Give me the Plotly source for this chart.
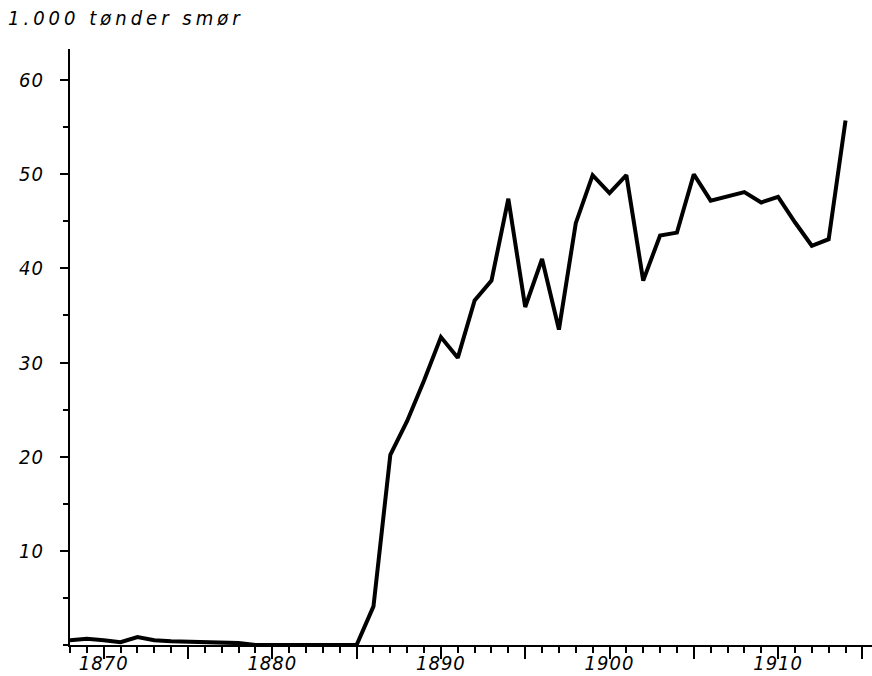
import plotly.graph_objects as go

years = list(range(1868, 1915))
values = [0.5, 0.65, 0.5, 0.3, 0.85, 0.5, 0.4, 0.35, 0.3, 0.25, 0.2, 0.0,
          0.0, 0.0, 0.0, 0.0, 0.0, 0.0,
          4.1, 20.2, 23.8, 28.1, 32.7, 30.5, 36.6, 38.7, 47.4, 35.9, 41.0, 33.5,
          44.8, 49.9, 48.0, 49.9, 38.7, 43.5, 43.8, 50.0, 47.2, 47.7, 48.1, 47.0,
          47.6, 44.9, 42.4, 43.1, 55.7]

x_major = list(range(1870, 1916, 5))
x_text = [str(v) if v % 10 == 0 else "" for v in x_major]
y_major = [10, 20, 30, 40, 50, 60]
y_text = [str(v) for v in y_major]
title_text = "1.000 tønder smør"

FONT = "DejaVu Sans Condensed, DejaVu Sans, sans-serif"


def spaced(t, px):
    return '<span style="letter-spacing:%dpx">%s</span>' % (px, t) if t else ""


fig = go.Figure()
fig.add_trace(go.Scatter(x=years, y=values, mode="lines",
                         line=dict(color="black", width=4, shape="linear"),
                         hoverinfo="skip", showlegend=False, cliponaxis=False))

fig.update_layout(
    template="none",
    width=872, height=676,
    margin=dict(l=70, r=0, t=49, b=31, autoexpand=False),
    paper_bgcolor="white", plot_bgcolor="white",
    font=dict(family=FONT, color="black", size=20, style="italic"),
    title=dict(text=spaced(title_text, 4), xref="container", yref="container",
               x=8/872, xanchor="left", y=1-18/676, yanchor="middle",
               font=dict(family=FONT, size=20, style="italic", color="black")),
    xaxis=dict(range=[1868, 1915.57], showgrid=False, zeroline=False, automargin=False,
               showline=True, linecolor="black", linewidth=2,
               ticks="outside", tickvals=x_major, ticktext=[spaced(t, 1) for t in x_text],
               ticklen=12, tickwidth=2, tickcolor="black",
               ticklabelstandoff=-13,
               minor=dict(dtick=1, tick0=1868, ticks="outside", ticklen=6,
                          tickwidth=2, tickcolor="black", showgrid=False),
               tickfont=dict(family=FONT, size=20, style="italic")),
    yaxis=dict(range=[0, 63.3], showgrid=False, zeroline=False, automargin=False,
               showline=True, linecolor="black", linewidth=2,
               ticks="outside", tickvals=y_major, ticktext=[spaced(t, 1) for t in y_text],
               ticklen=8, tickwidth=2, tickcolor="black",
               ticklabelstandoff=12,
               minor=dict(dtick=5, tick0=0, ticks="outside", ticklen=5,
                          tickwidth=2, tickcolor="black", showgrid=False),
               tickfont=dict(family=FONT, size=20, style="italic")),
)

fig.write_html("out.html", config={"displayModeBar": False},
               post_script="document.body.style.margin='0';document.body.style.overflow='hidden';")
